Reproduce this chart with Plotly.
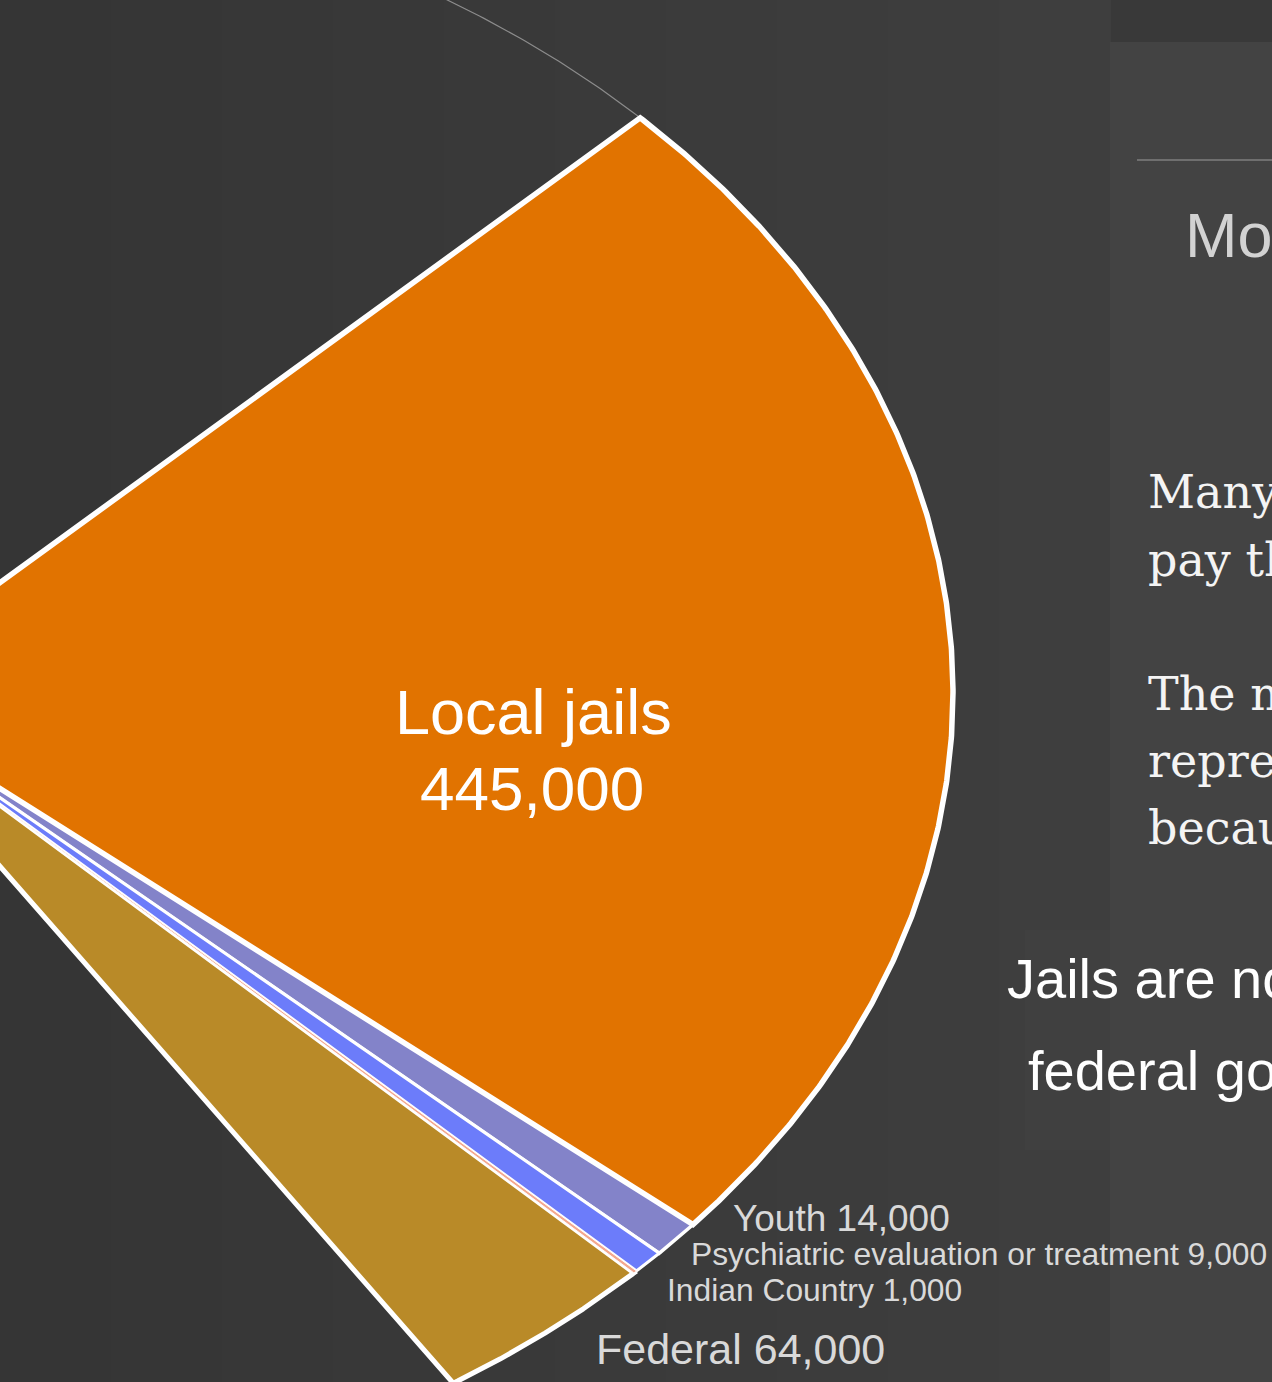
import numpy as np
import plotly.graph_objects as go

# Confinement categories shown in the highlighted part of the pie
categories = ["Local jails", "Youth", "Psychiatric evaluation or treatment",
              "Indian Country", "Federal"]
values = [445000, 14000, 9000, 1000, 64000]
# Remaining confinement in the full pie (dimmed, not labelled here)
rest_label = "All other confinement"
rest_value = 1367000

slice_colors = ["#E17300", "#8383C9", "#6C7CFA", "#F4A88E", "#B98A28"]
slice_line_w = [5.5, 3.5, 3.0, 0.9, 5.0]

# Geometry of the view: the pie centre sits left of the visible area
W, H = 1272, 1382
CX_PX, CY_PX = -152, 693          # pixel position of the pie centre
SX, SY = 1105, 825                # pixels per radius unit (x, y)
START_DEG = 44.2                  # first slice edge, slices run clockwise

x_min = -CX_PX / SX
x_rng = [x_min, x_min + W / SX]
y_max = CY_PX / SY
y_rng = [y_max - H / SY, y_max]


def px(x):
    return x / W


def py(y):
    return 1 - y / H


def wedge(a0, a1, n):
    t = np.radians(np.linspace(a0, a1, n))
    xs = np.concatenate([[0.0], np.cos(t), [0.0]])
    ys = np.concatenate([[0.0], np.sin(t), [0.0]])
    return xs, ys


total = sum(values) + rest_value
deg_per = 360.0 / total

edges = [START_DEG]
for v in values:
    edges.append(edges[-1] - v * deg_per)

fig = go.Figure()

# dimmed remainder of the pie: only a faint outline
rx, ry = wedge(edges[-1], edges[-1] - rest_value * deg_per, 900)
fig.add_trace(go.Scatter(x=rx, y=ry, mode="lines", fill="toself",
                         fillcolor="rgba(0,0,0,0)",
                         line=dict(color="#8c8c8c", width=1.2),
                         name=rest_label, hoverinfo="skip", showlegend=False))

# coloured slices, drawn so the large slice outline sits on top
order = [4, 1, 2, 3, 0]
for i in order:
    xs, ys = wedge(edges[i], edges[i + 1], 400)
    fig.add_trace(go.Scatter(x=xs, y=ys, mode="lines", fill="toself",
                             fillcolor=slice_colors[i],
                             line=dict(color="white", width=slice_line_w[i]),
                             name=categories[i], hoverinfo="skip",
                             showlegend=False))

# background panels and soft horizontal shading
shapes = []
band_cols = ["#353535", "#363636", "#373737", "#383838", "#393939",
             "#3a3a3a", "#3b3b3b", "#3c3c3c", "#3d3d3d", "#3e3e3e"]
bw = 1110 / len(band_cols)
for k, c in enumerate(band_cols):
    shapes.append(dict(type="rect", xref="paper", yref="paper",
                       x0=px(k * bw), x1=px((k + 1) * bw + 1), y0=0, y1=1,
                       fillcolor=c, line=dict(width=0), layer="below"))
shapes.append(dict(type="rect", xref="paper", yref="paper",
                   x0=px(1110), x1=1, y0=0, y1=py(42),
                   fillcolor="#434343", line=dict(width=0), layer="below"))
shapes.append(dict(type="rect", xref="paper", yref="paper",
                   x0=px(1025), x1=px(1110), y0=py(1150), y1=py(930),
                   fillcolor="#404040", line=dict(width=0), layer="below"))
shapes.append(dict(type="line", xref="paper", yref="paper",
                   x0=px(1137), x1=1, y0=py(160), y1=py(160),
                   line=dict(color="#6f6f6f", width=2), layer="below"))

sans = "Liberation Sans, Arial, sans-serif"
serif = "DejaVu Serif, serif"
annotations = []


def note(text, x, y, size, color, family=sans, xanchor="left"):
    annotations.append(dict(text=text, x=px(x), y=py(y), xref="paper",
                            yref="paper", xanchor=xanchor, yanchor="middle",
                            showarrow=False,
                            font=dict(family=family, size=size, color=color)))


# label inside the large slice
note(categories[0], 533, 712, 63, "#ffffff", xanchor="center")
note(f"{values[0]:,}", 532, 789, 62, "#ffffff", xanchor="center")

# labels for the narrow slices
lab_pos = {1: (731, 1218, 37), 2: (689, 1254, 31.8), 3: (665, 1290, 31.8),
           4: (594, 1349, 43)}
for i, (x, y, s) in lab_pos.items():
    note(f"{categories[i]} {values[i]:,}", x, y, s, "#d9d9d9")

# side panel text
note("Most people in jail have not been convicted", 1183, 235, 63, "#d2d2d2")
serif_lines = [("Many people in jail cannot afford to", 492),
               ("pay the bail that was set.", 560),
               ("The majority are held pretrial and", 694),
               ("represented by public defenders", 761),
               ("because they cannot pay for counsel.", 828)]
for t, y in serif_lines:
    note(t, 1146, y, 46, "#f4f4f4", family=serif)
note("Jails are not run by the", 1005, 979, 56, "#ffffff")
note("federal government.", 1026, 1070, 56, "#ffffff")

fig.update_layout(
    width=W, height=H, autosize=False,
    margin=dict(l=0, r=0, t=0, b=0, pad=0),
    paper_bgcolor="#393939", plot_bgcolor="rgba(0,0,0,0)",
    xaxis=dict(range=x_rng, visible=False, fixedrange=True),
    yaxis=dict(range=y_rng, visible=False, fixedrange=True),
    shapes=shapes, annotations=annotations, showlegend=False,
)

fig.write_html("out.html", config={"displayModeBar": False})
